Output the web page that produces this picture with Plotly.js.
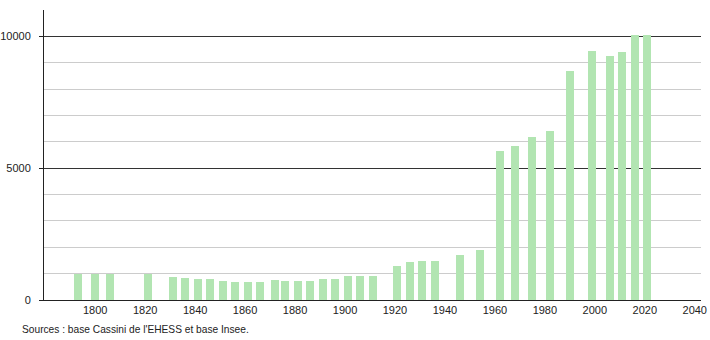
<!DOCTYPE html>
<html>
<head>
<meta charset="utf-8">
<script src="https://cdn.plot.ly/plotly-3.0.1.min.js"></script>
<style>html,body{margin:0;padding:0;background:#fff;}#chart{width:710px;height:340px;}</style>
</head>
<body>
<div id="chart"></div>
<script>
var years = [1793,1800,1806,1821,1831,1836,1841,1846,1851,1856,1861,1866,1872,1876,1881,1886,1891,1896,1901,1906,1911,1921,1926,1931,1936,1946,1954,1962,1968,1975,1982,1990,1999,2006,2011,2016,2021];
var population = [995,1000,1005,985,880,840,805,790,730,690,695,690,770,725,720,720,800,800,900,915,910,1300,1440,1490,1490,1710,1900,5640,5860,6170,6420,8680,9460,9240,9390,10050,10050];
var xTicks = [1800,1820,1840,1860,1880,1900,1920,1940,1960,1980,2000,2020,2040];
var yTicks = [0,5000,10000];
var sourceText = "Sources : base Cassini de l'EHESS et base Insee.";

var font = {family: "Liberation Sans, Arial, sans-serif", size: 11, color: "#222"};
var sourceFont = {family: "Liberation Sans, Arial, sans-serif", size: 10.2, color: "#222"};

var trace = {
  type: "bar",
  x: years,
  y: population,
  width: 3.2,
  marker: {color: "#b2e5b2", line: {width: 0}},
  hoverinfo: "x+y"
};

var layout = {
  width: 710, height: 340,
  margin: {l: 44, r: 9, t: 10, b: 40},
  paper_bgcolor: "#fff", plot_bgcolor: "#fff",
  font: font,
  showlegend: false,
  bargap: 0,
  xaxis: {
    range: [1779.5, 2042.5],
    tickvals: xTicks,
    ticktext: xTicks.map(String),
    showgrid: false,
    zeroline: false,
    showline: true, linecolor: "#222", linewidth: 1,
    ticks: "",
    tickfont: font
  },
  yaxis: {
    range: [0, 11000],
    dtick: 1000,
    showgrid: true, gridcolor: "#cccccc", gridwidth: 1,
    zeroline: false,
    showline: true, linecolor: "#222", linewidth: 1,
    showticklabels: false,
    ticks: ""
  },
  yaxis2: {
    overlaying: "y",
    range: [0, 11000],
    tickvals: yTicks,
    ticktext: yTicks.map(String),
    showgrid: true, gridcolor: "#333333", gridwidth: 1,
    zeroline: false,
    showline: false,
    ticks: "outside", ticklen: 4, tickcolor: "#222",
    ticklabelstandoff: 6,
    tickfont: font,
    side: "left"
  },
  annotations: [{
    text: sourceText,
    xref: "paper", yref: "paper",
    x: -0.036, y: -0.103,
    xanchor: "left", yanchor: "middle",
    showarrow: false,
    font: sourceFont
  }]
};

var dummy = {type: "scatter", x: [1780], y: [0], yaxis: "y2", mode: "markers", marker: {opacity: 0}, hoverinfo: "skip"};

Plotly.newPlot("chart", [trace, dummy], layout, {staticPlot: true, displayModeBar: false});
</script>
</body>
</html>
